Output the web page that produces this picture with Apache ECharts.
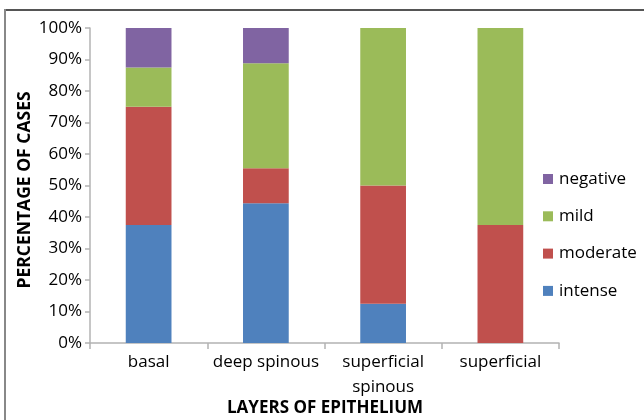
<!DOCTYPE html>
<html>
<head>
<meta charset="utf-8">
<script src="https://cdn.jsdelivr.net/npm/echarts@6/dist/echarts.min.js"></script>
<style>
  html, body { margin: 0; padding: 0; background: #fff; }
  #chart { width: 644px; height: 420px; }
</style>
</head>
<body>
<div id="chart"></div>
<script>
// Layers of epithelium and staining intensity (% of cases)
const layers = ['basal', 'deep spinous', 'superficial\nspinous', 'superficial'];
const intense  = [37.5, 44.4, 12.5, 0];
const moderate = [37.5, 11.1, 37.5, 37.5];
const mild     = [12.5, 33.3, 50.0, 62.5];
const negative = [12.5, 11.2, 0, 0];
const yTicks = [0, 10, 20, 30, 40, 50, 60, 70, 80, 90, 100];

const FONT = '"Open Sans", Lato, sans-serif';

const chart = echarts.init(document.getElementById('chart'), null, { renderer: 'canvas' });

function bar(name, data, color) {
  return {
    name: name,
    type: 'bar',
    stack: 'total',
    data: data,
    barWidth: '39%',
    itemStyle: { color: color },
    emphasis: { disabled: true }
  };
}

chart.setOption({
  animation: false,
  backgroundColor: '#ffffff',
  graphic: [
    // outer frame: top and left edges
    { type: 'rect', shape: { x: 4, y: 9, width: 640, height: 2 }, style: { fill: '#555' }, silent: true },
    { type: 'rect', shape: { x: 4, y: 9, width: 2, height: 411 }, style: { fill: '#888' }, silent: true },
    {
      type: 'text', x: 325, y: 408,
      style: { text: 'LAYERS OF EPITHELIUM', font: 'bold 17px ' + FONT, fill: '#000', textAlign: 'center', textVerticalAlign: 'middle' }
    },
    {
      type: 'text', x: 25, y: 190, rotation: Math.PI / 2,
      style: { text: 'PERCENTAGE OF CASES', font: 'bold 17.5px ' + FONT, fill: '#000', textAlign: 'center', textVerticalAlign: 'middle' }
    }
  ],
  grid: { left: 90, right: 85, top: 28, bottom: 77, containLabel: false },
  legend: {
    orient: 'vertical',
    left: 543,
    top: 169,
    padding: 0,
    itemWidth: 10,
    itemHeight: 10,
    itemGap: 17.3,
    icon: 'rect',
    textStyle: { fontFamily: FONT, fontSize: 17, lineHeight: 20, color: '#000', padding: [0, 0, 0, 1] },
    data: ['negative', 'mild', 'moderate', 'intense']
  },
  xAxis: {
    type: 'category',
    data: layers,
    axisLine: { lineStyle: { color: '#b3b3b3', width: 1.5 } },
    axisTick: { show: true, length: 6, lineStyle: { color: '#b3b3b3', width: 1.5 } },
    axisLabel: { interval: 0, fontFamily: FONT, fontSize: 17, color: '#000', margin: 6.5, lineHeight: 25 }
  },
  yAxis: {
    type: 'value',
    min: 0,
    max: 100,
    interval: 10,
    axisLine: { show: true, lineStyle: { color: '#b3b3b3', width: 1.5 } },
    axisTick: { show: true, length: 5, lineStyle: { color: '#b3b3b3', width: 1.5 } },
    splitLine: { show: false },
    axisLabel: {
      fontFamily: FONT, fontSize: 17, color: '#000', margin: 8,
      formatter: function (v) { return yTicks.indexOf(v) >= 0 ? v + '%' : ''; }
    }
  },
  series: [
    bar('intense', intense, '#4f81bd'),
    bar('moderate', moderate, '#c0504d'),
    bar('mild', mild, '#9bbb59'),
    bar('negative', negative, '#8064a2')
  ]
});
</script>
</body>
</html>
